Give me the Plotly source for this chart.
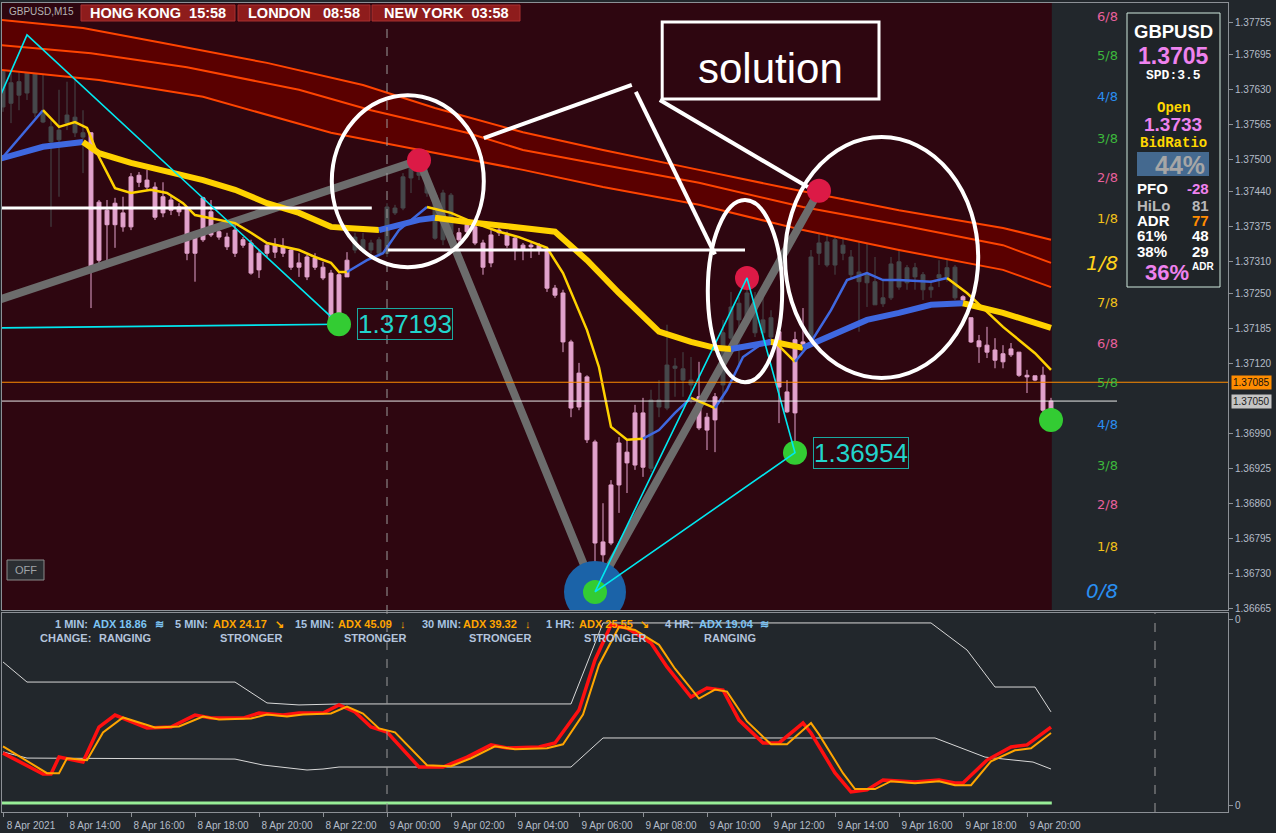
import plotly.graph_objects as go
from plotly.subplots import make_subplots

# ---------------- price data (GBPUSD M15, bar 0 = 8 Apr 12:00) ----------------
bars = list(range(132))
opens = [1.37597, 1.37604, 1.37619, 1.37623, 1.37586, 1.37569, 1.37532, 1.37536, 1.37567, 1.37549,
         1.37541, 1.37549, 1.37420, 1.37405, 1.37418, 1.37400, 1.37467, 1.37470, 1.37461, 1.37448,
         1.37430, 1.37424, 1.37411, 1.37409, 1.37355, 1.37428, 1.37402, 1.37365, 1.37355, 1.37368,
         1.37350, 1.37344, 1.37325, 1.37340, 1.37340, 1.37337, 1.37331, 1.37307, 1.37318, 1.37316,
         1.37299, 1.37288, 1.37285, 1.37312, 1.37331, 1.37331, 1.37331, 1.37325, 1.37325, 1.37400,
         1.37409, 1.37465, 1.37470, 1.37437, 1.37353, 1.37350, 1.37363, 1.37363, 1.37378, 1.37374,
         1.37344, 1.37359, 1.37368, 1.37359, 1.37353, 1.37340, 1.37340, 1.37340, 1.37331, 1.37260,
         1.37251, 1.37160, 1.37102, 1.37095, 1.36974, 1.36788, 1.36786, 1.36894, 1.36935, 1.36931,
         1.36927, 1.36925, 1.37039, 1.37037, 1.37111, 1.37089, 1.37080, 1.37058, 1.37020, 1.37058,
         1.37080, 1.37167, 1.37201, 1.37201, 1.37177, 1.37177, 1.37169, 1.37179, 1.37067, 1.37164,
         1.37160, 1.37169, 1.37325, 1.37303, 1.37303, 1.37325, 1.37285, 1.37272, 1.37270, 1.37229,
         1.37231, 1.37242, 1.37262, 1.37270, 1.37281, 1.37257, 1.37257, 1.37279, 1.37281, 1.37242,
         1.37244, 1.37205, 1.37162, 1.37154, 1.37145, 1.37138, 1.37147, 1.37141, 1.37098, 1.37097,
         1.37098, 1.37033]
highs = [1.37679, 1.37662, 1.37662, 1.37703, 1.37675, 1.37660, 1.37573, 1.37629, 1.37644, 1.37657,
         1.37591, 1.37550, 1.37424, 1.37424, 1.37428, 1.37430, 1.37474, 1.37476, 1.37480, 1.37457,
         1.37457, 1.37433, 1.37418, 1.37411, 1.37363, 1.37430, 1.37424, 1.37372, 1.37363, 1.37387,
         1.37355, 1.37350, 1.37331, 1.37344, 1.37353, 1.37353, 1.37335, 1.37325, 1.37322, 1.37325,
         1.37309, 1.37294, 1.37288, 1.37327, 1.37363, 1.37363, 1.37350, 1.37355, 1.37418, 1.37415,
         1.37474, 1.37498, 1.37502, 1.37485, 1.37437, 1.37443, 1.37437, 1.37372, 1.37387, 1.37378,
         1.37350, 1.37368, 1.37372, 1.37365, 1.37355, 1.37344, 1.37344, 1.37344, 1.37335, 1.37266,
         1.37257, 1.37164, 1.37121, 1.37098, 1.36978, 1.36860, 1.36903, 1.36983, 1.36978, 1.37043,
         1.37056, 1.37071, 1.37089, 1.37192, 1.37130, 1.37141, 1.37132, 1.37123, 1.37028, 1.37065,
         1.37201, 1.37253, 1.37244, 1.37279, 1.37253, 1.37253, 1.37219, 1.37179, 1.37089, 1.37179,
         1.37223, 1.37331, 1.37441, 1.37372, 1.37387, 1.37428, 1.37331, 1.37418, 1.37344, 1.37318,
         1.37275, 1.37318, 1.37335, 1.37303, 1.37307, 1.37290, 1.37275, 1.37312, 1.37318, 1.37303,
         1.37247, 1.37205, 1.37173, 1.37188, 1.37167, 1.37154, 1.37158, 1.37141, 1.37108, 1.37097,
         1.37114, 1.37056]
lows = [1.37588, 1.37567, 1.37591, 1.37610, 1.37578, 1.37567, 1.37374, 1.37430, 1.37554, 1.37541,
        1.37474, 1.37223, 1.37299, 1.37299, 1.37335, 1.37365, 1.37368, 1.37448, 1.37443, 1.37387,
        1.37392, 1.37396, 1.37394, 1.37312, 1.37272, 1.37346, 1.37355, 1.37350, 1.37331, 1.37318,
        1.37335, 1.37285, 1.37279, 1.37318, 1.37316, 1.37318, 1.37294, 1.37281, 1.37275, 1.37294,
        1.37275, 1.37197, 1.37193, 1.37281, 1.37325, 1.37325, 1.37325, 1.37318, 1.37318, 1.37396,
        1.37405, 1.37437, 1.37461, 1.37430, 1.37350, 1.37340, 1.37350, 1.37340, 1.37357, 1.37340,
        1.37285, 1.37299, 1.37357, 1.37335, 1.37312, 1.37312, 1.37316, 1.37322, 1.37253, 1.37242,
        1.37141, 1.37020, 1.37033, 1.36972, 1.36695, 1.36699, 1.36782, 1.36842, 1.36879, 1.36922,
        1.36909, 1.36918, 1.37020, 1.37033, 1.37058, 1.37058, 1.37046, 1.36996, 1.36959, 1.36955,
        1.37046, 1.37158, 1.37113, 1.37192, 1.37169, 1.37164, 1.37158, 1.37009, 1.37028, 1.36954,
        1.37154, 1.37158, 1.37303, 1.37299, 1.37285, 1.37312, 1.37279, 1.37179, 1.37225, 1.37229,
        1.37225, 1.37238, 1.37257, 1.37257, 1.37257, 1.37238, 1.37242, 1.37262, 1.37272, 1.37238,
        1.37229, 1.37158, 1.37121, 1.37130, 1.37111, 1.37111, 1.37132, 1.37095, 1.37065, 1.37087,
        1.37020, 1.37015]
closes = [1.37666, 1.37642, 1.37644, 1.37662, 1.37671, 1.37586, 1.37560, 1.37554, 1.37582, 1.37578,
          1.37549, 1.37299, 1.37312, 1.37378, 1.37378, 1.37374, 1.37374, 1.37457, 1.37448, 1.37392,
          1.37400, 1.37405, 1.37402, 1.37325, 1.37325, 1.37350, 1.37359, 1.37355, 1.37337, 1.37325,
          1.37340, 1.37288, 1.37294, 1.37325, 1.37327, 1.37325, 1.37299, 1.37299, 1.37281, 1.37299,
          1.37279, 1.37201, 1.37197, 1.37281, 1.37355, 1.37350, 1.37344, 1.37350, 1.37411, 1.37409,
          1.37467, 1.37485, 1.37480, 1.37461, 1.37433, 1.37437, 1.37433, 1.37350, 1.37365, 1.37344,
          1.37299, 1.37307, 1.37363, 1.37340, 1.37331, 1.37331, 1.37337, 1.37331, 1.37260, 1.37247,
          1.37160, 1.37037, 1.37039, 1.36978, 1.36786, 1.36764, 1.36894, 1.36972, 1.36955, 1.37028,
          1.37028, 1.37052, 1.37052, 1.37117, 1.37115, 1.37110, 1.37089, 1.37000, 1.36996, 1.37015,
          1.37177, 1.37225, 1.37232, 1.37251, 1.37234, 1.37201, 1.37205, 1.37076, 1.37030, 1.37028,
          1.37156, 1.37318, 1.37344, 1.37346, 1.37350, 1.37340, 1.37318, 1.37290, 1.37288, 1.37272,
          1.37242, 1.37305, 1.37309, 1.37298, 1.37298, 1.37285, 1.37262, 1.37285, 1.37298, 1.37299,
          1.37238, 1.37160, 1.37151, 1.37141, 1.37126, 1.37123, 1.37136, 1.37098, 1.37095, 1.37089,
          1.37033, 1.37050]
# candle colour state of the trend indicator: 1 = up (dark), -1 = down (pink)
trend = [1] * 11 + [-1] * 33 + [1] * 13 + [-1] * 24 + [1] * 6 + [-1] * 3 + [1] * 7 + [-1] * 4 + [1] * 19 + [-1] * 12

# ---------------- moving-average envelope band ----------------
band_top_x = [-1, 10, 20, 33, 45, 54, 65, 75, 87, 99, 112, 125, 131]
band_top = [1.37760, 1.37744, 1.37716, 1.37679, 1.37638, 1.37595, 1.37550, 1.37517, 1.37480, 1.37443, 1.37405, 1.37372, 1.37350]
band_mid_x = [-1, 11, 23, 37, 46, 58, 65, 75, 87, 100, 112, 125, 131]
band_mid = [1.37713, 1.37697, 1.37671, 1.37629, 1.37591, 1.37549, 1.37517, 1.37489, 1.37456, 1.37411, 1.37378, 1.37340, 1.37307]
band_bot_x = [-1, 12, 25, 41, 50, 65, 75, 87, 100, 112, 125, 131]
band_bot = [1.37667, 1.37647, 1.37616, 1.37549, 1.37523, 1.37480, 1.37448, 1.37415, 1.37368, 1.37331, 1.37294, 1.37262]

# ---------------- slow (thick) and fast (thin) MAs, with slope colour state ----------------
thick_x = [-1, 5, 10, 12, 16, 20, 25, 29, 33, 37, 41, 43, 47, 52, 54, 58, 65, 69, 73, 77,
           82, 86, 89, 91, 96, 97, 100, 103, 108, 112, 116, 120, 125, 131]
thick_y = [1.37498, 1.37523, 1.37532, 1.37511, 1.37493, 1.37480, 1.37461, 1.37443, 1.37418, 1.37400,
           1.37374, 1.37372, 1.37368, 1.37387, 1.37391, 1.37383, 1.37372, 1.37365, 1.37312, 1.37251,
           1.37179, 1.37160, 1.37149, 1.37147, 1.37160, 1.37158, 1.37149, 1.37169, 1.37201, 1.37214,
           1.37229, 1.37232, 1.37214, 1.37186]
thick_dir = [1, 1, 0, 0, 0, 0, 0, 0, 0, 0, 0, 0, 1, 1, 0, 0, 0, 0, 0, 0, 0, 0, 0, 1, 0, 0, 1, 1, 1, 1, 1, 0, 0]

thin_x = [0, 5, 7, 9, 10.5, 12, 14, 16, 18.5, 20.5, 22.5, 24, 27, 29, 31, 33, 37, 39, 41, 42,
          43, 45.5, 47.5, 49.5, 53, 56, 59, 62, 64.5, 68, 70, 73, 74.5, 76, 78, 80, 82, 84, 86, 89,
          90.5, 92.5, 95, 96, 96.5, 99, 101, 103.5, 105.5, 108, 110, 112, 116, 118, 120.5, 125, 129, 131]
thin_y = [1.37504, 1.37591, 1.37560, 1.37569, 1.37558, 1.37504, 1.37446, 1.37437, 1.37443, 1.37437,
          1.37418, 1.37396, 1.37387, 1.37381, 1.37363, 1.37344, 1.37331, 1.37318, 1.37307, 1.37290,
          1.37290, 1.37312, 1.37325, 1.37368, 1.37411, 1.37400, 1.37381, 1.37365, 1.37355, 1.37335,
          1.37288, 1.37182, 1.37113, 1.37002, 1.36978, 1.36980, 1.36996, 1.37028, 1.37056, 1.37037,
          1.37071, 1.37132, 1.37158, 1.37164, 1.37160, 1.37123, 1.37160, 1.37219, 1.37275, 1.37288,
          1.37275, 1.37275, 1.37272, 1.37279, 1.37251, 1.37188, 1.37139, 1.37108]
thin_dir = [1] + [0] * 19 + [1] * 4 + [0] * 11 + [1] * 3 + [0] + [1] * 4 + [0] * 2 + [1] * 8 + [0] * 4

# ---------------- zigzag / pattern pivots ----------------
zz_x = [-1, 52, 74, 102]
zz_y = [1.37236, 1.37498, 1.36695, 1.37441]
cyan_a_x = [-1, 3, 42]
cyan_a_y = [1.37595, 1.37731, 1.37193]
cyan_b_x = [-1, 42]
cyan_b_y = [1.37186, 1.37193]
cyan_c_x = [74, 93, 99, 74]
cyan_c_y = [1.36695, 1.37279, 1.36954, 1.36695]
green_x = [42, 74, 99, 131]
green_y = [1.37193, 1.36695, 1.36954, 1.37015]
red_x = [52, 93, 102]
red_y = [1.37498, 1.37279, 1.37441]
big_low_x = [74]
big_low_y = [1.36695]
pivot_labels = ["1.37193", "1.36954"]
pivot_label_x = [44.3, 101.2]
pivot_label_y = [1.37193, 1.36954]

hline_a = 1.37409
hline_b = 1.37331
ask_price = 1.37085
bid_price = 1.37050

# ---------------- Murrey math labels ----------------
murrey_levels = [1.37766, 1.37692, 1.37616, 1.37539, 1.37465, 1.37389, 1.37307, 1.37234, 1.37158,
                 1.37084, 1.37007, 1.36931, 1.36857, 1.36779, 1.36697]
murrey_text = ["6/8", "5/8", "4/8", "3/8", "2/8", "1/8", "1/8", "7/8", "6/8", "5/8", "4/8", "3/8", "2/8", "1/8", "0/8"]
murrey_col = ["#e8609c", "#3cb83c", "#2a8ef0", "#3cb83c", "#e8609c", "#f2c21a", "#ffd21a", "#f2c21a",
              "#e8609c", "#3cb83c", "#2a8ef0", "#3cb83c", "#e8609c", "#f2c21a", "#2a8ef0"]
murrey_big = [False] * 6 + [True] + [False] * 7 + [True]

# ---------------- axis ticks ----------------
price_ticks = [1.37755, 1.37695, 1.37630, 1.37565, 1.37500, 1.37440, 1.37375, 1.37310, 1.37250,
               1.37185, 1.37120, 1.36990, 1.36925, 1.36860, 1.36795, 1.36730, 1.36665]
time_ticks = [0, 8, 16, 24, 32, 40, 48, 56, 64, 72, 80, 88, 96, 104, 112, 120, 128]
time_labels = ["8 Apr 2021", "8 Apr 14:00", "8 Apr 16:00", "8 Apr 18:00", "8 Apr 20:00", "8 Apr 22:00",
               "9 Apr 00:00", "9 Apr 02:00", "9 Apr 04:00", "9 Apr 06:00", "9 Apr 08:00", "9 Apr 10:00",
               "9 Apr 12:00", "9 Apr 14:00", "9 Apr 16:00", "9 Apr 18:00", "9 Apr 20:00"]

# ---------------- ADX sub-window ----------------
adx_red_x = [0, 5, 6, 7, 10, 12, 14, 18, 21, 24, 26, 30, 32, 35, 37, 40, 42, 44, 46, 48, 52, 55, 58, 61, 63,
             67, 69, 72, 74, 76, 78, 81, 83, 86, 88, 90, 92, 95, 97, 100, 101, 104, 106, 108, 110, 114,
             117, 119, 120, 123, 126, 128, 131]
adx_red = [29.6, 19.1, 19.1, 27.6, 25.1, 42.7, 48.7, 42.2, 42.7, 48.7, 47.2, 47.2, 49.7, 48.7, 49.7, 49.7,
           53.8, 50.3, 42.7, 40.2, 22.6, 22.6, 27.6, 33.7, 32.2, 32.7, 34.7, 51.3, 76.4, 94.0, 92.5, 84.9,
           72.9, 57.8, 62.3, 61.3, 46.2, 34.7, 34.7, 44.7, 39.7, 19.6, 10.1, 11.1, 16.1, 15.1, 16.1, 14.6,
           14.6, 26.1, 32.7, 33.7, 42.7]
adx_org_x = [0, 5.5, 7, 8, 10.5, 12.5, 15, 19, 22, 25, 27, 31, 33, 35.5, 37.5, 41, 43, 45, 47, 49, 53, 56,
             58.5, 61.5, 64, 68, 70, 72.5, 74.5, 77, 79, 82, 84, 87, 89, 90.5, 93, 96, 98, 101, 102, 105,
             106.5, 109, 111, 114, 117, 119, 121, 123.5, 126.5, 128.5, 131]
adx_org = [33.0, 19.5, 19.5, 27.0, 26.0, 40.0, 47.5, 42.5, 43.0, 48.0, 46.5, 47.0, 49.0, 48.0, 49.0, 49.5,
           53.0, 49.5, 42.0, 40.0, 23.5, 23.0, 27.0, 33.0, 31.5, 32.0, 34.0, 49.0, 74.0, 93.0, 91.5, 84.0,
           72.0, 57.0, 61.5, 60.5, 45.5, 34.0, 34.0, 44.7, 39.0, 19.5, 11.5, 11.5, 15.5, 14.5, 15.5, 13.5,
           13.5, 25.5, 31.0, 32.0, 39.7]
env_hi_x = [0, 3, 29, 33, 37, 42, 71, 75, 116, 120.5, 124, 129, 131]
env_hi = [75.4, 65.3, 65.3, 54.8, 53.8, 54.3, 54.3, 95.0, 95.0, 81.4, 62.8, 62.8, 50.3]
env_lo_x = [0, 3, 29, 32.5, 38, 40, 42, 71, 75, 116.5, 122.75, 128.75, 131]
env_lo = [30.2, 27.1, 26.6, 23.6, 21.1, 21.6, 22.6, 22.6, 37.2, 37.2, 27.6, 25.1, 21.6]
adx_base = 4.5

adx_items = [("1 MIN:", 53, "lbl"), ("ADX 18.86", 91, "blue"), ("≋", 153, "blue"),
             ("5 MIN:", 173, "lbl"), ("ADX 24.17", 211, "org"), ("↘", 273, "org"),
             ("15 MIN:", 293, "lbl"), ("ADX 45.09", 336, "org"), ("↓", 398, "org"),
             ("30 MIN:", 420, "lbl"), ("ADX 39.32", 461, "org"), ("↓", 523, "org"),
             ("1 HR:", 544, "lbl"), ("ADX 25.55", 577, "org"), ("↘", 638, "org"),
             ("4 HR:", 663, "lbl"), ("ADX 19.04", 697, "blue"), ("≋", 758, "blue")]
adx_change = [("CHANGE:", 38), ("RANGING", 97), ("STRONGER", 218), ("STRONGER", 342),
              ("STRONGER", 467), ("STRONGER", 582), ("RANGING", 702)]

# ---------------- layout helpers ----------------
W, H = 1276, 833
ML, MR, MT, MB = 2, 48, 3, 21
PW, PH = W - ML - MR, H - MT - MB


def px(x):
    return (x - ML) / PW


def py(y):
    return (H - MB - y) / PH


BG = "#22272c"
MAROON = "#2e0610"
BLUE = "#3f68e0"
YEL = "#ffd200"
FONT = "Liberation Sans, Arial, sans-serif"

fig = make_subplots(rows=2, cols=1, shared_xaxes=True, vertical_spacing=0.0)

# band
fig.add_trace(go.Scatter(x=band_top_x, y=band_top, mode="lines", line=dict(color="#ff4400", width=2)), row=1, col=1)
fig.add_trace(go.Scatter(x=band_bot_x, y=band_bot, mode="lines", line=dict(color="#ff4400", width=2),
                         fill="tonexty", fillcolor="#5a0000"), row=1, col=1)
fig.add_trace(go.Scatter(x=band_mid_x, y=band_mid, mode="lines", line=dict(color="#ff4400", width=2)), row=1, col=1)

# zigzag (grey)
fig.add_trace(go.Scatter(x=zz_x, y=zz_y, mode="lines", line=dict(color="#6c6c6c", width=8)), row=1, col=1)

# candles split by trend state
for state, col in [(1, "#46484b"), (-1, "#e2a2cc")]:
    idx = [k for k in bars if trend[k] == state]
    fig.add_trace(go.Candlestick(
        x=[bars[k] for k in idx], open=[opens[k] for k in idx], high=[highs[k] for k in idx],
        low=[lows[k] for k in idx], close=[closes[k] for k in idx],
        increasing=dict(line=dict(color=col, width=1), fillcolor=col),
        decreasing=dict(line=dict(color=col, width=1), fillcolor=col),
        whiskerwidth=0, hoverinfo="skip"), row=1, col=1)


def add_colored(xs, ys, dirs, width):
    start = 0
    n = len(dirs)
    for k in range(1, n + 1):
        if k == n or dirs[k] != dirs[start]:
            fig.add_trace(go.Scatter(x=xs[start:k + 1], y=ys[start:k + 1], mode="lines",
                                     line=dict(color=BLUE if dirs[start] == 1 else YEL, width=width)),
                          row=1, col=1)
            start = k


add_colored(thick_x, thick_y, thick_dir, 6)
add_colored(thin_x, thin_y, thin_dir, 2.5)

# white horizontal segments
fig.add_trace(go.Scatter(x=[-1, 46.1], y=[hline_a, hline_a], mode="lines", line=dict(color="white", width=3)), row=1, col=1)
fig.add_trace(go.Scatter(x=[48.1, 92.75], y=[hline_b, hline_b], mode="lines", line=dict(color="white", width=3)), row=1, col=1)

# cyan pattern lines
for cx, cy in [(cyan_a_x, cyan_a_y), (cyan_b_x, cyan_b_y)]:
    fig.add_trace(go.Scatter(x=cx, y=cy, mode="lines", line=dict(color="#00e8f0", width=1.6)), row=1, col=1)

# pivot dots
fig.add_trace(go.Scatter(x=big_low_x, y=big_low_y, mode="markers",
                         marker=dict(size=62, color="#1b63a8", line=dict(width=0))), row=1, col=1)
fig.add_trace(go.Scatter(x=red_x, y=red_y, mode="markers",
                         marker=dict(size=24, color="#dc1a46", line=dict(width=0))), row=1, col=1)
fig.add_trace(go.Scatter(x=green_x, y=green_y, mode="markers",
                         marker=dict(size=24, color="#33cc33", line=dict(width=0))), row=1, col=1)
fig.add_trace(go.Scatter(x=cyan_c_x, y=cyan_c_y, mode="lines", line=dict(color="#00e8f0", width=1.6)), row=1, col=1)

# ADX window
fig.add_trace(go.Scatter(x=env_hi_x, y=env_hi, mode="lines", line=dict(color="#d8d8d8", width=1)), row=2, col=1)
fig.add_trace(go.Scatter(x=env_lo_x, y=env_lo, mode="lines", line=dict(color="#d8d8d8", width=1)), row=2, col=1)
fig.add_trace(go.Scatter(x=adx_red_x, y=adx_red, mode="lines", line=dict(color="#ff1010", width=3.5)), row=2, col=1)
fig.add_trace(go.Scatter(x=adx_org_x, y=adx_org, mode="lines", line=dict(color="#ffa500", width=2)), row=2, col=1)
fig.add_trace(go.Scatter(x=[-1, 131.1], y=[adx_base, adx_base], mode="lines", line=dict(color="#98ee98", width=3)), row=2, col=1)

shapes = []
shapes.append(dict(type="rect", xref="x", yref="y domain", x0=-1, x1=131.1, y0=0, y1=1,
                   fillcolor=MAROON, line=dict(width=0), layer="below"))
shapes.append(dict(type="line", xref="x", yref="y", x0=-1, x1=154, y0=ask_price, y1=ask_price,
                   line=dict(color="#ff8c00", width=1)))
shapes.append(dict(type="line", xref="x", yref="y", x0=-1, x1=139.25, y0=bid_price, y1=bid_price,
                   line=dict(color="#e8e8e8", width=1)))
shapes.append(dict(type="line", xref="x", yref="paper", x0=48, x1=48, y0=0, y1=1,
                   line=dict(color="#9a9a9a", width=1, dash="dash")))
shapes.append(dict(type="line", xref="x", yref="y2 domain", x0=144, x1=144, y0=0, y1=1,
                   line=dict(color="#9a9a9a", width=1, dash="dash")))
wl = dict(color="white", width=4)
shapes.append(dict(type="circle", xref="x", yref="y", x0=41.1, x1=60.1, y0=1.37299, y1=1.37619, line=wl))
shapes.append(dict(type="circle", xref="x", yref="y", x0=88.1, x1=97.4, y0=1.37085, y1=1.37424, line=wl))
shapes.append(dict(type="circle", xref="x", yref="y", x0=97.75, x1=121.9, y0=1.37093, y1=1.37541, line=wl))
shapes.append(dict(type="line", xref="x", yref="y", x0=60.1, y0=1.37539, x1=78.6, y1=1.37638, line=wl))
shapes.append(dict(type="line", xref="x", yref="y", x0=79.1, y0=1.37625, x1=89.0, y1=1.37323, line=wl))
shapes.append(dict(type="line", xref="x", yref="y", x0=82.1, y0=1.37610, x1=100.6, y1=1.37448, line=wl))
shapes.append(dict(type="rect", xref="x", yref="y", x0=82.4, x1=109.5, y0=1.37612, y1=1.37755,
                   line=dict(color="white", width=3)))
for x0, x1 in [(81, 235), (238, 370), (372, 520)]:
    shapes.append(dict(type="rect", xref="paper", yref="paper", x0=px(x0), x1=px(x1), y0=py(21), y1=py(5),
                       fillcolor="#8e1c1c", line=dict(color="#a83030", width=1)))
shapes.append(dict(type="rect", xref="paper", yref="paper", x0=px(7), x1=px(44), y0=py(580), y1=py(560),
                   fillcolor="#2b2e32", line=dict(color="#8a8a8a", width=1)))
shapes.append(dict(type="rect", xref="paper", yref="paper", x0=px(1127), x1=px(1220), y0=py(287), y1=py(13),
                   fillcolor="#1f2428", line=dict(color="#cfe8dc", width=1)))
shapes.append(dict(type="rect", xref="paper", yref="paper", x0=px(1137), x1=px(1209), y0=py(176), y1=py(152),
                   fillcolor="#44698f", line=dict(width=0)))

ann = []


def txt(t, x, y, size, color, anchor="center", family=FONT, bold=True, italic=False, xref="paper", yref="paper"):
    s = t
    if bold:
        s = "<b>" + s + "</b>"
    if italic:
        s = "<i>" + s + "</i>"
    ann.append(dict(text=s, x=x, y=y, xref=xref, yref=yref, xanchor=anchor, yanchor="middle",
                    showarrow=False, font=dict(size=size, color=color, family=family)))


txt("GBPUSD,M15", px(7), py(11), 10, "#b4b4b4", anchor="left", bold=False)
txt("HONG KONG\u00a0\u00a015:58", px(158), py(13), 14.5, "white")
txt("LONDON\u00a0\u00a0\u00a008:58", px(304), py(13), 14.5, "white")
txt("NEW YORK\u00a0\u00a003:58", px(446), py(13), 14.5, "white")
txt("OFF", px(25.5), py(570), 11, "#a0a4a8", bold=False)

txt("solution", 95.9, 1.37668, 42, "white", bold=False, xref="x", yref="y")

for t, lx, ly in zip(pivot_labels, pivot_label_x, pivot_label_y):
    ann.append(dict(text=t, x=lx, y=ly, xref="x", yref="y", xanchor="left", yanchor="middle", showarrow=False,
                    font=dict(size=26, color="#22d4cc", family=FONT), bordercolor="#1aa8a0", borderwidth=1,
                    borderpad=0))

for lv, t, c, big in zip(murrey_levels, murrey_text, murrey_col, murrey_big):
    ann.append(dict(text="<i>" + t + "</i>" if big else t, x=px(1120), y=lv, xref="paper", yref="y",
                    xanchor="right", yanchor="middle", showarrow=False,
                    font=dict(size=20 if big else 13, color=c, family="DejaVu Sans, sans-serif")))

VIO = "#ee82ee"
txt("GBPUSD", px(1173), py(32), 18.5, "white", family="Liberation Sans Narrow, Liberation Sans, Arial")
txt("1.3705", px(1173), py(56), 23, VIO)
txt("SPD:3.5", px(1173), py(75), 13, "white", family="Liberation Mono, monospace")
txt("Open", px(1174), py(108), 14, "#ffd700", family="Liberation Mono, monospace")
txt("1.3733", px(1173), py(125), 19, VIO)
txt("BidRatio", px(1173), py(143), 14, "#ffd700", family="Liberation Mono, monospace")
txt("44%", px(1180), py(165), 25, "#a6a6a6")
rows = [("PFO", "white", "-28", VIO, 188), ("HiLo", "#b8b8b8", "81", "#b8b8b8", 205),
        ("ADR", "white", "77", "#ff8c00", 220), ("61%", "white", "48", "white", 236),
        ("38%", "white", "29", "white", 252)]
for a, ca, b, cb, yy in rows:
    txt(a, px(1135), py(yy), 15, ca, anchor="left")
    txt(b, px(1211), py(yy), 15, cb, anchor="right")
txt("36%", px(1167), py(272), 22, VIO)
txt("ADR", px(1203), py(266), 10, "white")

cols = {"lbl": "#a8c4e2", "blue": "#7cc4f4", "org": "#ffa500"}
for t, x, c in adx_items:
    txt(t, px(x), py(624), 11, cols[c], anchor="left")
for t, x in adx_change:
    txt(t, px(x), py(638), 11, "#b4c4dc", anchor="left")

ann.append(dict(text="1.37085", x=1.0, y=ask_price, xref="paper", yref="y", xanchor="left", yanchor="middle",
                xshift=3, showarrow=False, bgcolor="#ff8c00", borderpad=1,
                font=dict(size=10, color="#101010", family=FONT)))
ann.append(dict(text="1.37050", x=1.0, y=bid_price, xref="paper", yref="y", xanchor="left", yanchor="middle",
                xshift=3, showarrow=False, bgcolor="#c4c4c4", borderpad=1,
                font=dict(size=10, color="#202020", family=FONT)))

axis_line = "#8c9096"
fig.update_layout(
    width=W, height=H, margin=dict(l=ML, r=MR, t=MT, b=MB),
    paper_bgcolor=BG, plot_bgcolor=BG, showlegend=False,
    font=dict(family=FONT), shapes=shapes, annotations=ann, hovermode=False,
    xaxis=dict(range=[-0.125, 153.125], showticklabels=False, showgrid=False, zeroline=False,
               showline=True, mirror=True, linecolor=axis_line, ticks="", rangeslider=dict(visible=False)),
    xaxis2=dict(range=[-0.125, 153.125], tickvals=time_ticks, ticktext=time_labels, ticks="outside",
                ticklen=4, tickcolor=axis_line, showgrid=False, zeroline=False, showline=True, mirror=True,
                linecolor=axis_line, tickfont=dict(size=10, color="#b4bcc8", family=FONT),
                ticklabelshift=28, rangeslider=dict(visible=False), automargin=False),
    yaxis=dict(domain=[py(610), 1.0], range=[1.366614, 1.377904], side="right", tickvals=price_ticks,
               ticktext=["%.5f" % v for v in price_ticks], ticks="outside", ticklen=4, tickcolor=axis_line,
               showgrid=False, zeroline=False, showline=True, mirror=True, linecolor=axis_line,
               tickfont=dict(size=10, color="#b4bcc8", family=FONT), automargin=False),
    yaxis2=dict(domain=[0, py(613)], range=[0, 100], side="right", tickvals=[3.5, 96.5], ticktext=["0", "0"],
                ticks="outside", ticklen=4, tickcolor=axis_line, showgrid=False, zeroline=False, showline=True,
                mirror=True, linecolor=axis_line, tickfont=dict(size=10, color="#b4bcc8", family=FONT),
                automargin=False),
)
fig.update_xaxes(rangeslider_visible=False)

fig.write_html("out.html", config={"displayModeBar": False, "staticPlot": True}, post_script=(
    "document.body.style.margin='0';document.body.style.padding='0';"
    "document.body.style.overflow='hidden';document.body.style.background='#22272c';"))
